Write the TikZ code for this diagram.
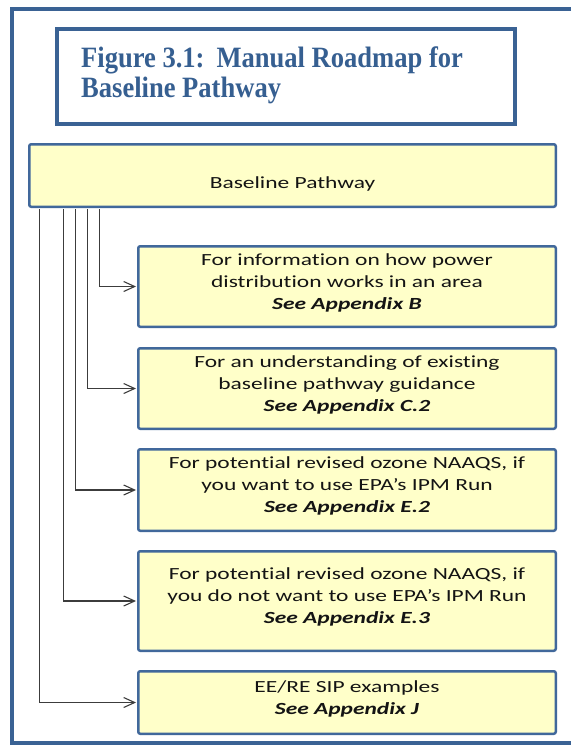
\documentclass[tikz,border=0pt]{standalone}
\usepackage{fontspec}
\usetikzlibrary{arrows.meta,calc}
\newfontfamily\boxfont[FakeStretch=1.38,Ligatures=NoCommon]{Carlito}
\newfontfamily\titlefont[FakeStretch=0.9]{Liberation Serif}
\definecolor{frameblue}{HTML}{3A6294}
\definecolor{titleblue}{HTML}{365F91}
\definecolor{boxfill}{HTML}{FFFFC9}
\definecolor{boxedge}{HTML}{41689B}
\definecolor{wire}{HTML}{3C3C3C}
\begin{document}
\begin{tikzpicture}[x=1pt,y=-1pt,
  panel/.style={draw=boxedge,line width=2.5pt,fill=boxfill,rounded corners=2pt,inner sep=0pt},
  childbox/.style={panel,minimum width=417.5pt},
  labelfont/.style={font=\boxfont\fontsize{17}{22}\selectfont,text=black!92,inner sep=0pt},
  boxtext/.style={labelfont,align=center,yshift=4pt},
  feed/.style={draw=wire,line width=1.1pt,shorten >=1pt,-{Straight Barb[length=11pt,width=10pt]}}
]
\useasboundingbox (0,0) rectangle (571,747);
\fill[white] (0,0) rectangle (571,747);

% outer frame, open on the right
\draw[frameblue,line width=4pt] (571,9) -- (12,9) -- (12,743) -- (571,743);

% title block
\node[draw=frameblue,line width=4pt,minimum width=458pt,minimum height=95pt,inner sep=0pt] (titlebox) at (286,76.5) {};
\node[anchor=north west,inner sep=0pt,align=left,text=titleblue,
      font=\titlefont\bfseries\fontsize{29.5}{30}\selectfont] (title) at (81,46.5)
  {Figure 3.1:\hspace{12pt}Manual Roadmap for\\Baseline Pathway};

% root box
\node[panel,minimum width=526.5pt,minimum height=62.5pt] (root) at (292.5,175.5) {};
\node[labelfont,anchor=base] (rootlabel) at ($(root.center)+(0,12.5)$) {Baseline Pathway};

% child boxes
\node[childbox,minimum height=80.5pt] (b1) at (347,286.5) {};
\node[boxtext] (b1text) at (b1.center)
  {For information on how power\\distribution works in an area\\\textbf{\textit{See Appendix B}}};

\node[childbox,minimum height=80.5pt] (b2) at (347,388.5) {};
\node[boxtext] (b2text) at (b2.center)
  {For an understanding of existing\\baseline pathway guidance\\\textbf{\textit{See Appendix C.2}}};

\node[childbox,minimum height=81.5pt] (b3) at (347,490) {};
\node[boxtext] (b3text) at (b3.center)
  {For potential revised ozone NAAQS, if\\you want to use EPA’s IPM Run\\\textbf{\textit{See Appendix E.2}}};

\node[childbox,minimum height=99.5pt] (b4) at (347,601) {};
\node[boxtext] (b4text) at (b4.center)
  {For potential revised ozone NAAQS, if\\you do not want to use EPA’s IPM Run\\\textbf{\textit{See Appendix E.3}}};

\node[childbox,minimum height=62.5pt] (b5) at (347,702.5) {};
\node[boxtext] (b5text) at (b5.center)
  {EE/RE SIP examples\\\textbf{\textit{See Appendix J}}};

% feeder lines from the root box
\coordinate (d1) at ($(root.south west)+(71.75,1.25)$);
\coordinate (d2) at ($(root.south west)+(59.75,1.25)$);
\coordinate (d3) at ($(root.south west)+(47.75,1.25)$);
\coordinate (d4) at ($(root.south west)+(35.75,1.25)$);
\coordinate (d5) at ($(root.south west)+(11.75,1.25)$);
\draw[feed] (d1) |- (b1.west);
\draw[feed] (d2) |- (b2.west);
\draw[feed] (d3) |- (b3.west);
\draw[feed] (d4) |- (b4.west);
\draw[feed] (d5) |- (b5.west);
\end{tikzpicture}
\end{document}
